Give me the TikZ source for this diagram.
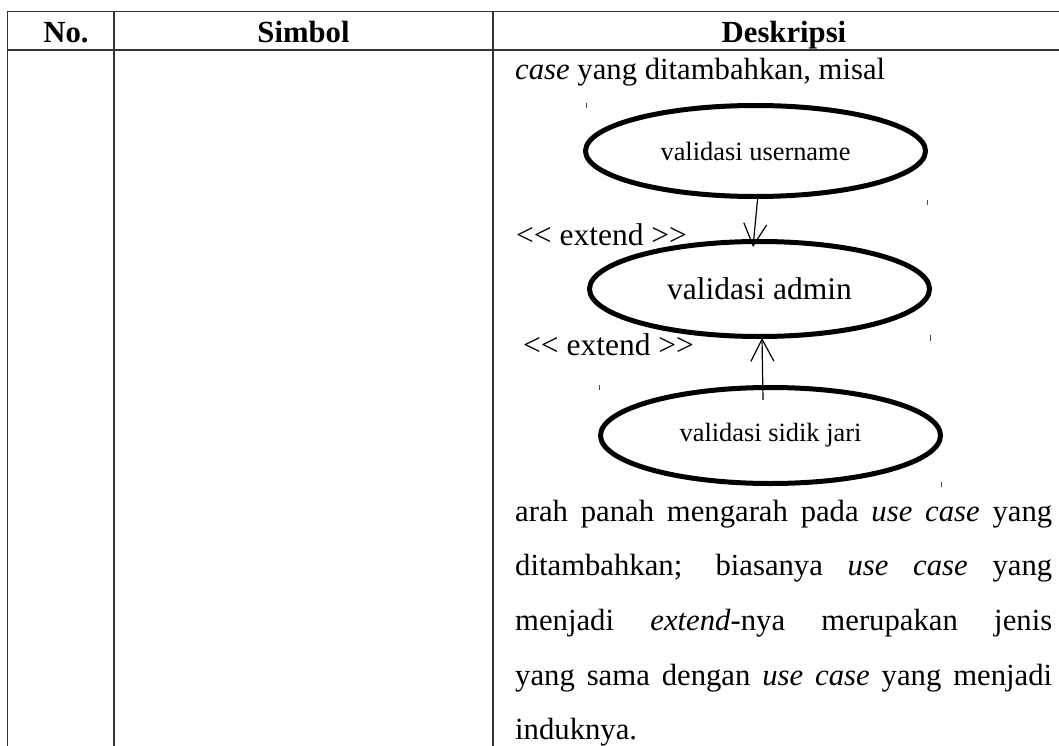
\documentclass[tikz,border=0pt]{standalone}
\usepackage{fontspec}
\setmainfont{Liberation Serif}
% same family without the TeX input mapping, so that << stays as two signs
\newfontfamily\labelfont{Liberation Serif}
\usetikzlibrary{shapes.geometric,arrows.meta}
\tikzset{
  grid/.style={line width=1.9pt, draw=black!80},
  head/.style={font=\fontsize{30.7}{36}\selectfont\bfseries, inner sep=0pt, anchor=base},
  body/.style={font=\fontsize{30.7}{54.7}\selectfont, inner sep=0pt, anchor=base west},
  extlabel/.style={font=\labelfont\fontsize{31.5}{36}\selectfont, inner sep=0pt, anchor=base west},
  usecase/.style={ellipse, draw=black, line width=5pt, inner sep=0pt, outer sep=0pt,
                  minimum width=340pt},
  smalltext/.style={font=\fontsize{26.4}{30}\selectfont},
  bigtext/.style={font=\fontsize{31.5}{36}\selectfont},
  extarrow/.style={-{Straight Barb[length=22pt,width=23pt,line width=1.2pt]}, line width=1.2pt},
  tickmark/.style={line width=1pt, draw=black!70},
}
\begin{document}
\begin{tikzpicture}[x=1pt, y=-1pt]
  \useasboundingbox (0,0) rectangle (1059,746);
  \clip (0,0) rectangle (1059,746);

  % table rules
  \draw[grid] (7.5,752) |- (1065,11.5);
  \draw[grid] (7.5,50) -- (1065,50);
  \draw[grid] (114,11.5) -- (114,752);
  \draw[grid] (493,11.5) -- (493,752);

  % header
  \node[head] (hno)   at (66,43)  {No.};
  \node[head] (hsym)  at (303.5,43) {Simbol};
  \node[head] (hdesc) at (784,43) {Deskripsi};

  % description text above the example
  \node[body] (intro) at (515,80) {\textit{case} yang ditambahkan, misal};

  % use case example
  \node[usecase, minimum height=91pt, smalltext] (u1) at (755.5,151) {validasi username};
  \node[usecase, minimum height=95pt, bigtext]   (u2) at (759.5,289) {validasi admin};
  \node[usecase, minimum height=96pt, smalltext] (u3) at (770.5,435.5) {validasi sidik jari};

  \node[extlabel] (ext1) at (516,245) {<\kern0pt< extend >\kern0pt>};
  \node[extlabel] (ext2) at (523,355) {<\kern0pt< extend >\kern0pt>};

  \draw[extarrow] ([xshift=2.5pt,yshift=1.5pt]u1.south) -- ([xshift=-6.5pt,yshift=-5.5pt]u2.north);
  \draw[extarrow] ([xshift=-7.5pt,yshift=-12.5pt]u3.north) -- ([xshift=2.5pt,yshift=-1.5pt]u2.south);

  % small stray marks around the example
  \draw[tickmark] (586,103) -- (586,108);
  \draw[tickmark] (927,200) -- (927,205);
  \draw[tickmark] (930,335) -- (930,341);
  \draw[tickmark] (599,385) -- (599,390);
  \draw[tickmark] (941,482) -- (941,487);

  % explanation paragraph
  \node[body, text width=537pt, align=justify] (expl) at (515,521) {%
    \hyphenpenalty=10000 \tolerance=10000
    arah panah mengarah pada \textit{use case} yang\linebreak
    ditambahkan; biasanya \textit{use case} yang\linebreak
    menjadi \textit{extend}-nya merupakan jenis\linebreak
    yang sama dengan \textit{use case} yang menjadi\linebreak
    induknya.};
\end{tikzpicture}
\end{document}
